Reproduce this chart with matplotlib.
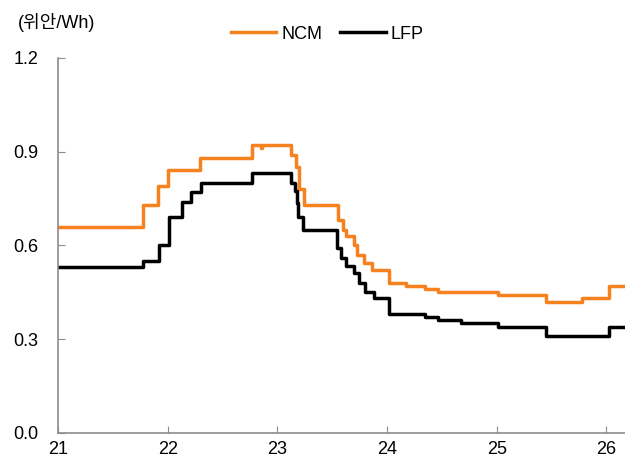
import matplotlib
matplotlib.use('Agg')
import matplotlib.pyplot as plt

plt.rcParams['font.family'] = ['Liberation Sans', 'Noto Sans CJK KR', 'DejaVu Sans']

# NCM price steps (x = year, 21 = 2021)
x_ncm = [21.0, 21.77, 21.91, 22.0, 22.29, 22.77, 22.85, 22.86, 23.12, 23.17, 23.20, 23.24,
         23.55, 23.60, 23.63, 23.70, 23.73, 23.79, 23.86, 24.02, 24.17, 24.35, 24.46,
         25.01, 25.45, 25.78, 26.02, 26.17]
y_ncm = [0.66, 0.73, 0.79, 0.84, 0.88, 0.92, 0.91, 0.92, 0.89, 0.85, 0.78, 0.73,
         0.68, 0.65, 0.63, 0.60, 0.57, 0.545, 0.52, 0.48, 0.47, 0.46, 0.45,
         0.44, 0.42, 0.43, 0.47, 0.47]

# LFP price steps
x_lfp = [21.0, 21.77, 21.92, 22.01, 22.13, 22.21, 22.30, 22.77, 23.12, 23.16, 23.18, 23.19,
         23.23, 23.54, 23.58, 23.63, 23.70, 23.74, 23.80, 23.88, 24.02, 24.35, 24.46,
         24.67, 25.01, 25.45, 26.02, 26.17]
y_lfp = [0.53, 0.55, 0.60, 0.69, 0.74, 0.77, 0.80, 0.83, 0.80, 0.775, 0.735, 0.69,
         0.65, 0.59, 0.56, 0.535, 0.51, 0.48, 0.45, 0.43, 0.38, 0.37, 0.36,
         0.35, 0.34, 0.31, 0.34, 0.34]

x_ticks = [21, 22, 23, 24, 25, 26]
y_ticks = [0.0, 0.3, 0.6, 0.9, 1.2]

fig = plt.figure(figsize=(6.25, 4.62), dpi=100)
ax = fig.add_axes([0.093, 0.063, 0.907, 0.812])

ax.plot(x_ncm, y_ncm, drawstyle='steps-post', color='#f5821f', lw=2.5, label='NCM')
ax.plot(x_lfp, y_lfp, drawstyle='steps-post', color='black', lw=2.5, label='LFP')

ax.set_xlim(21, 26.17)
ax.set_ylim(0, 1.2)
ax.set_xticks(x_ticks)
ax.set_xticklabels([str(t) for t in x_ticks])
ax.set_yticks(y_ticks)
ax.set_yticklabels([f'{t:.1f}' for t in y_ticks])

for s in ['top', 'right']:
    ax.spines[s].set_visible(False)
for s in ['left', 'bottom']:
    ax.spines[s].set_color('#8c8c8c')
    ax.spines[s].set_linewidth(1.2)

ax.tick_params(axis='both', direction='in', length=5, color='#8c8c8c', labelsize=13)
ax.tick_params(axis='y', pad=14)
ax.tick_params(axis='x', pad=6)

fig.text(0.028, 0.952, '(위안/Wh)', fontsize=13, va='center', ha='left')

ax.legend(loc='center', bbox_to_anchor=(0.475, 1.063), ncol=2, frameon=False,
          fontsize=13, handlelength=2.5, handletextpad=0.3, columnspacing=1.0)

fig.savefig('out.png', dpi=100)
